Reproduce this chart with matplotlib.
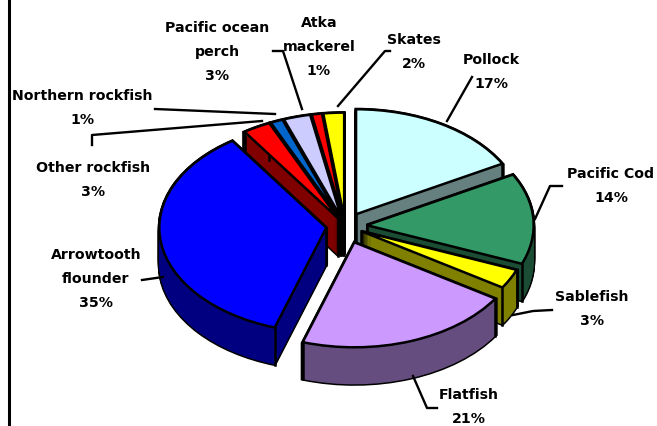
import matplotlib
matplotlib.use("Agg")
import matplotlib.pyplot as plt
from matplotlib.patches import Wedge
import numpy as np

# slices in clockwise order from 12 o'clock
especies = ["Pollock", "Pacific Cod", "Sablefish", "Flatfish", "Arrowtooth\nflounder",
            "Other rockfish", "Northern rockfish", "Pacific ocean\nperch", "Atka\nmackerel", "Skates"]
valores = [17, 14, 3, 21, 35.5, 2.7, 1.2, 2.6, 1, 2]
etiquetas_pct = ["17%", "14%", "3%", "21%", "35%", "3%", "1%", "3%", "1%", "2%"]

separacion = [.13, .13, .11, .165, .113, .08, .08, .08, .08, .08]
color_cara = ["#CCFFFF", "#339966", "#FFFF00", "#CC99FF", "#0000FF",
              "#FF0000", "#0066CC", "#CCCCFF", "#FF0000", "#FFFF00"]
color_lado = ["#668080", "#1A4D33", "#808000", "#664D80", "#000080",
              "#800000", "#003366", "#666680", "#800000", "#808000"]
orden = [9, 8, 7, 6, 5, 0, 4, 1, 2, 3]  # de atras hacia adelante

W, H = 657, 427
cx, cy, rx, ry = 345, 227, 167, 105
prof = 37  # grosor en pixeles

# centro de cada texto en pixeles
pos_texto = [(491, 72), (611, 186), (592, 309), (469, 407), (96, 279),
             (93, 180), (82, 108), (217, 52), (319, 47), (414, 52)]
guias = [
    [(447, 122), (472, 78)],
    [(535, 220), (550, 187), (562, 187)],
    [(513, 316), (533, 312), (552, 311)],
    [(413, 377), (427, 409), (437, 409)],
    [(142, 281), (163, 278)],
    [(92, 146), (92, 136), (262, 122)],
    [(155, 110), (275, 115)],
    [(273, 52), (283, 52), (302, 110)],
    [(338, 107), (385, 52), (390, 52)],
]

fig = plt.figure(figsize=(W / 100, H / 100), dpi=100)
ax = fig.add_axes([0, 0, 1, 1])
wedges, _ = ax.pie(valores, explode=separacion, startangle=90, counterclock=False,
                   colors=color_cara, radius=1)
ax.set_aspect("auto")
ax.set_xlim(-cx / rx, (W - cx) / rx)
ax.set_ylim((cy - H) / ry, cy / ry)

dy = prof / ry
capas = np.linspace(dy, 0, prof + 1)
for z, i in enumerate(orden):
    w = wedges[i]
    c = w.center
    base = 10 * z + 1
    for d in capas:
        ax.add_patch(Wedge((c[0], c[1] - d), w.r, w.theta1, w.theta2, facecolor="black",
                           edgecolor="black", lw=2.2, zorder=base))
    for d in capas:
        ax.add_patch(Wedge((c[0], c[1] - d), w.r, w.theta1, w.theta2, facecolor=color_lado[i],
                           edgecolor="none", lw=0, zorder=base + 1))
    # aristas verticales
    for t in (w.theta1, w.theta2):
        x = c[0] + w.r * np.cos(np.radians(t))
        y = c[1] + w.r * np.sin(np.radians(t))
        ax.plot([x, x], [y, y - dy], color="black", lw=1.8, zorder=base + 2)
    ax.plot([c[0], c[0]], [c[1], c[1] - dy], color="black", lw=1.8, zorder=base + 2)
    w.set_zorder(base + 3)
    w.set_edgecolor("black")
    w.set_linewidth(1.8)

# capa en pixeles para textos y lineas guia
ov = fig.add_axes([0, 0, 1, 1])
ov.set_xlim(0, W)
ov.set_ylim(H, 0)
ov.axis("off")
ov.patch.set_alpha(0)
ov.axvline(9, color="black", lw=2.2)
for g in guias:
    ov.plot([p[0] for p in g], [p[1] for p in g], color="black", lw=1.7)
for nombre, pct, (x, y) in zip(especies, etiquetas_pct, pos_texto):
    ov.text(x, y, nombre + "\n" + pct, ha="center", va="center", fontsize=10.2, fontweight="bold",
            family="DejaVu Sans", linespacing=1.93, color="black")

fig.savefig("out.png", dpi=100)
